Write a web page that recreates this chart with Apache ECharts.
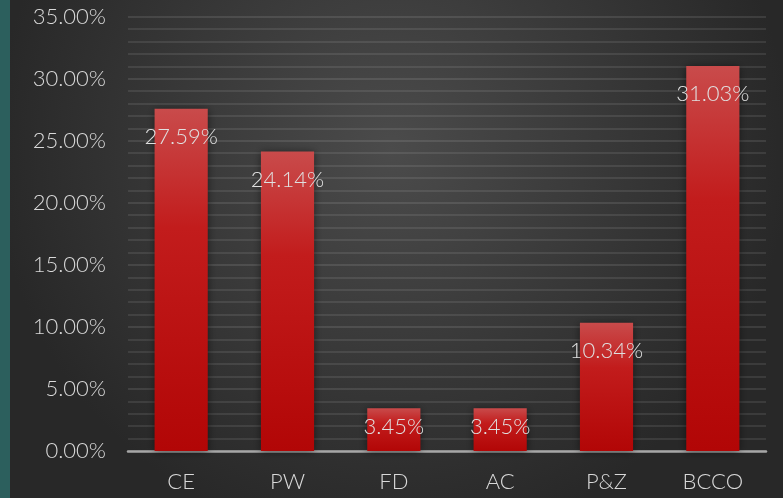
<!DOCTYPE html>
<html><head><meta charset="utf-8">
<script src="https://cdn.jsdelivr.net/npm/echarts@6/dist/echarts.min.js"></script>
<style>html,body{margin:0;padding:0;background:#333;}#c{width:783px;height:498px;}</style>
</head><body><div id="c"></div>
<script>
const categories = ['CE', 'PW', 'FD', 'AC', 'P&Z', 'BCCO'];
const values = [27.59, 24.14, 3.45, 3.45, 10.34, 31.03];
const yTicks = [0, 5, 10, 15, 20, 25, 30, 35];

const FONT = 'Lato';
const chart = echarts.init(document.getElementById('c'), null, {renderer: 'canvas'});
const data = values.map(v => {
  const item = {value: v};
  if (v < 5) item.label = {distance: 8};
  return item;
});
chart.setOption({
  backgroundColor: {
    type: 'radial', x: 0.5, y: 0.3, r: 0.8,
    colorStops: [{offset: 0, color: '#4b4b4b'}, {offset: 1, color: '#282828'}]
  },
  animation: false,
  graphic: [{type: 'rect', left: 0, top: 0, shape: {width: 10, height: 498}, style: {fill: '#2c5f5d'}}],
  grid: {left: 128, right: 17, top: 16.7, bottom: 47},
  xAxis: {
    type: 'category', data: categories,
    axisLine: {lineStyle: {color: '#a6a6a6', width: 2.5}},
    axisTick: {show: false},
    axisLabel: {color: '#d9d9d9', fontFamily: FONT, fontWeight: 300, fontSize: 22, margin: 20}
  },
  yAxis: {
    type: 'value', min: yTicks[0], max: yTicks[yTicks.length - 1], interval: 5,
    axisLine: {show: false}, axisTick: {show: false},
    axisLabel: {color: '#d9d9d9', fontFamily: FONT, fontWeight: 300, fontSize: 22, margin: 22,
      formatter: v => v.toFixed(2) + '%'},
    splitLine: {lineStyle: {color: 'rgba(255,255,255,0.1)', width: 2}},
    minorTick: {show: false, splitNumber: 5},
    minorSplitLine: {show: true, lineStyle: {color: 'rgba(255,255,255,0.09)', width: 2}}
  },
  series: [{
    type: 'bar', data: data, barWidth: '50%',
    itemStyle: {
      color: {type: 'linear', x: 0, y: 0, x2: 0, y2: 1,
        colorStops: [{offset: 0, color: '#c94b4b'}, {offset: 0.35, color: '#c21c1c'}, {offset: 1, color: '#b20606'}]},
      shadowColor: 'rgba(0,0,0,0.5)', shadowBlur: 8, shadowOffsetX: 0, shadowOffsetY: 1
    },
    label: {
      show: true, position: 'insideTop', distance: 17,
      color: '#e0e0e0', fontFamily: FONT, fontWeight: 300, fontSize: 22,
      formatter: p => p.value.toFixed(2) + '%'
    }
  }]
});
</script></body></html>
